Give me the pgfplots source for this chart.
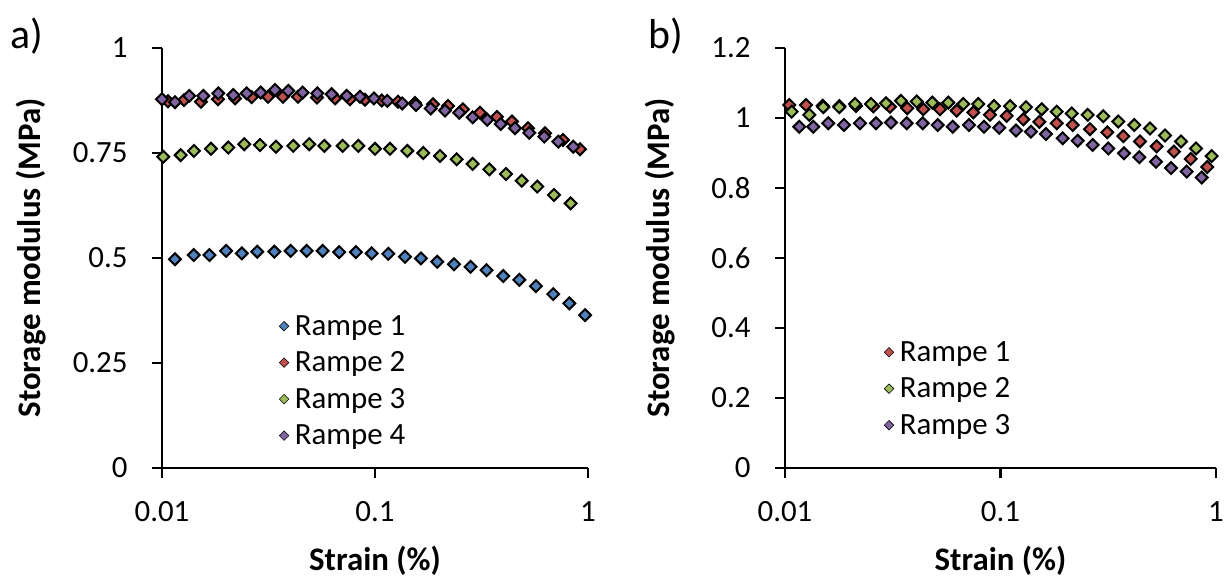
\documentclass[border=0pt]{standalone}
\usepackage{fontspec}
\setmainfont{Carlito}
\usepackage{pgfplots}
\pgfplotsset{compat=1.18}
\definecolor{cblue}{HTML}{4F81BD}
\definecolor{cred}{HTML}{C0504D}
\definecolor{cgreen}{HTML}{9BBB59}
\definecolor{cpurple}{HTML}{8064A2}
\tikzset{
  mkb/.style={mark options={rotate=45, fill=cblue, draw=black, line width=2bp}},
  mkr/.style={mark options={rotate=45, fill=cred, draw=black, line width=2bp}},
  mkg/.style={mark options={rotate=45, fill=cgreen, draw=black, line width=2bp}},
  mkp/.style={mark options={rotate=45, fill=cpurple, draw=black, line width=2bp}},
}
\begin{document}
\begin{tikzpicture}
\useasboundingbox (0,0) rectangle (1231bp,576bp);
\node[font=\fontsize{42}{50}\selectfont] at (27bp,540bp) {a)};
\node[font=\fontsize{42}{50}\selectfont] at (666bp,540bp) {b)};
\begin{axis}[at={(162bp,108bp)}, anchor=south west,
  scale only axis, width=426bp, height=420bp,
  xmode=log, xmin=0.01, xmax=1, ymin=0, ymax=1,
  axis x line*=bottom, axis y line*=left,
  axis line style={line width=2.4bp},
  tick style={line width=2.4bp, black},
  tick align=outside, major tick length=10bp,
  xminorticks=false,
  xtick={0.01,0.1,1}, xticklabels={0.01,0.1,1},
  ytick={0,0.25,0.5,0.75,1}, yticklabels={0,0.25,0.5,0.75,1},
  clip=false,
  ticklabel style={font=\fontsize{31}{37}\selectfont},
  xticklabel style={yshift=-20bp},
  yticklabel style={xshift=-21bp},
  xlabel={\textbf{Strain (\%)}},
  ylabel={\textbf{Storage modulus (MPa)}},
  x label style={font=\fontsize{33}{40}\selectfont, at={(axis description cs:0.5,-0.22)}, anchor=center},
  y label style={font=\fontsize{33}{40}\selectfont, at={(axis description cs:-0.307,0.5)}, anchor=center},
  legend style={draw=none, fill=none, font=\fontsize{31}{37}\selectfont,
    at={(axis description cs:0.268,0.373)}, anchor=north west, row sep=11bp, column sep=4bp},
  legend cell align=left,
  legend image post style={every mark/.append style={scale=0.8, line width=0.6bp}},
  ]
\addplot[only marks, mark=square*, mark size=4.2bp, mkb] coordinates {
(0.0115,0.497) (0.0141,0.507) (0.0167,0.507) (0.0200,0.517) (0.0237,0.511) (0.0280,0.515)
(0.0337,0.515) (0.0402,0.517) (0.0478,0.517) (0.0568,0.517) (0.0679,0.514) (0.0814,0.514)
(0.0965,0.511) (0.1155,0.510) (0.1383,0.503) (0.1644,0.499) (0.196,0.491) (0.235,0.485)
(0.281,0.479) (0.334,0.471) (0.400,0.457) (0.476,0.448) (0.570,0.433) (0.687,0.414)
(0.817,0.392) (0.969,0.364)};
\addlegendentry{Rampe 1}
\addplot[only marks, mark=square*, mark size=4.2bp, mkr] coordinates {
(0.01067,0.873) (0.01269,0.876) (0.01524,0.872) (0.01832,0.878) (0.02202,0.880) (0.02637,0.883)
(0.03146,0.884) (0.03699,0.884) (0.04350,0.884) (0.05341,0.882) (0.06492,0.880) (0.07633,0.878)
(0.08976,0.877) (0.1075,0.875) (0.1282,0.872) (0.1541,0.869) (0.1872,0.866) (0.2202,0.862)
(0.2588,0.854) (0.3111,0.846) (0.3739,0.836) (0.4396,0.825) (0.5229,0.809) (0.6282,0.797)
(0.7633,0.781) (0.9170,0.759)};
\addlegendentry{Rampe 2}
\addplot[only marks, mark=square*, mark size=4.2bp, mkg] coordinates {
(0.01014,0.741) (0.01224,0.745) (0.01413,0.755) (0.01698,0.760) (0.02048,0.763) (0.02434,0.771)
(0.02885,0.769) (0.03428,0.765) (0.04134,0.767) (0.04913,0.771) (0.05781,0.767) (0.07054,0.767)
(0.08349,0.767) (0.1000,0.760) (0.1176,0.760) (0.1418,0.755) (0.1686,0.750) (0.2019,0.743)
(0.2418,0.735) (0.2875,0.724) (0.3440,0.711) (0.4121,0.700) (0.4884,0.684) (0.5781,0.670)
(0.6923,0.650) (0.8294,0.630)};
\addlegendentry{Rampe 3}
\addplot[only marks, mark=square*, mark size=4.2bp, mkp] coordinates {
(0.0100,0.878) (0.01151,0.871) (0.01343,0.886) (0.01563,0.886) (0.01838,0.892) (0.02161,0.888)
(0.02498,0.892) (0.02906,0.894) (0.03392,0.900) (0.03917,0.898) (0.04575,0.894) (0.05358,0.892)
(0.06259,0.890) (0.07364,0.886) (0.08502,0.884) (0.09892,0.880) (0.1142,0.874) (0.1343,0.868)
(0.1558,0.864) (0.1826,0.856) (0.2131,0.851) (0.2487,0.846) (0.2875,0.835) (0.3366,0.829)
(0.3892,0.819) (0.4543,0.809) (0.5302,0.798) (0.6233,0.789) (0.7255,0.777) (0.8531,0.765)};
\addlegendentry{Rampe 4}
\end{axis}
\begin{axis}[at={(785bp,108bp)}, anchor=south west,
  scale only axis, width=431bp, height=420bp,
  xmode=log, xmin=0.01, xmax=1, ymin=0, ymax=1.2,
  axis x line*=bottom, axis y line*=left,
  axis line style={line width=2.4bp},
  tick style={line width=2.4bp, black},
  tick align=outside, major tick length=10bp,
  xminorticks=false,
  xtick={0.01,0.1,1}, xticklabels={0.01,0.1,1},
  ytick={0,0.2,0.4,0.6,0.8,1,1.2}, yticklabels={0,0.2,0.4,0.6,0.8,1,1.2},
  clip=false,
  ticklabel style={font=\fontsize{31}{37}\selectfont},
  xticklabel style={yshift=-20bp},
  yticklabel style={xshift=-21bp},
  xlabel={\textbf{Strain (\%)}},
  ylabel={\textbf{Storage modulus (MPa)}},
  x label style={font=\fontsize{33}{40}\selectfont, at={(axis description cs:0.5,-0.22)}, anchor=center},
  y label style={font=\fontsize{33}{40}\selectfont, at={(axis description cs:-0.29,0.5)}, anchor=center},
  legend style={draw=none, fill=none, font=\fontsize{31}{37}\selectfont,
    at={(axis description cs:0.223,0.311)}, anchor=north west, row sep=11bp, column sep=4bp},
  legend cell align=left,
  legend image post style={every mark/.append style={scale=0.8, line width=0.6bp}},
  ]
\addplot[only marks, mark=square*, mark size=4.2bp, mkr] coordinates {
(0.01047,1.037) (0.01252,1.037) (0.01496,1.035) (0.01786,1.034) (0.02136,1.034) (0.02569,1.033)
(0.03071,1.032) (0.03694,1.028) (0.04384,1.025) (0.05240,1.025) (0.06262,1.021) (0.07477,1.016)
(0.08939,1.009) (0.1069,1.006) (0.1276,0.996) (0.1514,0.989) (0.1823,0.985) (0.2163,0.980)
(0.2602,0.968) (0.3130,0.959) (0.3714,0.948) (0.4438,0.933) (0.5306,0.919) (0.6383,0.904)
(0.7630,0.883) (0.9112,0.860)};
\addlegendentry{Rampe 1}
\addplot[only marks, mark=square*, mark size=4.2bp, mkg] coordinates {
(0.01074,1.018) (0.01297,1.009) (0.01506,1.031) (0.01786,1.031) (0.02113,1.040) (0.02506,1.040)
(0.02942,1.042) (0.03453,1.049) (0.04084,1.047) (0.04826,1.044) (0.05725,1.044) (0.06719,1.040)
(0.07889,1.040) (0.09328,1.034) (0.1107,1.034) (0.1313,1.031) (0.1553,1.025) (0.1823,1.018)
(0.2140,1.013) (0.2539,1.009) (0.2999,1.005) (0.3521,0.990) (0.4177,0.980) (0.4941,0.970)
(0.5798,0.950) (0.6882,0.933) (0.8078,0.913) (0.9550,0.891)};
\addlegendentry{Rampe 2}
\addplot[only marks, mark=square*, mark size=4.2bp, mkp] coordinates {
(0.01165,0.975) (0.01353,0.975) (0.01588,0.985) (0.01878,0.980) (0.02229,0.985) (0.02645,0.985)
(0.03104,0.987) (0.03670,0.985) (0.04355,0.985) (0.05111,0.980) (0.05999,0.975) (0.07143,0.980)
(0.08383,0.975) (0.09872,0.972) (0.1180,0.964) (0.1385,0.961) (0.1626,0.954) (0.1943,0.942)
(0.2281,0.935) (0.2678,0.923) (0.3164,0.913) (0.3742,0.899) (0.4406,0.888) (0.5268,0.875)
(0.6182,0.857) (0.7311,0.847) (0.8583,0.830)};
\addlegendentry{Rampe 3}
\end{axis}
\end{tikzpicture}
\end{document}
